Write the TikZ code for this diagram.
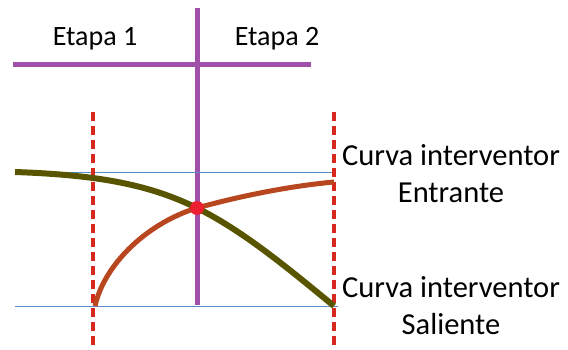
\documentclass[tikz,border=0pt]{standalone}
\usepackage{fontspec}
\setmainfont{Carlito}
\definecolor{purp}{RGB}{160,80,168}
\definecolor{olivec}{RGB}{88,84,0}
\definecolor{brownc}{RGB}{184,70,30}
\definecolor{reddash}{RGB}{214,40,30}
\definecolor{bluel}{RGB}{90,140,200}
\definecolor{dotred}{RGB}{235,30,50}
\begin{document}
\begin{tikzpicture}[x=1pt,y=-1pt,
  lbl/.style={font=\fontsize{28}{34}\selectfont, align=center, inner sep=0pt},
  clbl/.style={font=\fontsize{30.5}{37}\selectfont, align=center, inner sep=0pt},
  purpline/.style={purp, line width=5pt},
  bline/.style={bluel, line width=1pt},
  rdash/.style={reddash, line width=3.5pt, dash pattern=on 9pt off 5pt},
]
\useasboundingbox (0,0) rectangle (568,350);
% coordinates
\coordinate (ptop) at (197,8);
\coordinate (pbot) at (197,305);
\coordinate (hl) at (13,65);
\coordinate (hr) at (311,65);
\coordinate (b1l) at (15,173);
\coordinate (b1r) at (336,173);
\coordinate (b2l) at (15,306);
\coordinate (b2r) at (338,306);
\coordinate (d1t) at (93,112);
\coordinate (d1b) at (93,345);
\coordinate (d2t) at (334,112);
\coordinate (d2b) at (334,345);
\coordinate (x) at (197,208);
\coordinate (os) at (15,172);
\coordinate (oe) at (334,306);
\coordinate (bs) at (95,306);
\coordinate (be) at (334,182);
% labels
\node[lbl] (e1) at (95,39) {Etapa 1};
\node[lbl] (e2) at (277,39) {Etapa 2};
\node[clbl] (ent) at (451,174) {Curva interventor\\Entrante};
\node[clbl] (sal) at (451,306) {Curva interventor\\Saliente};
% lines
\draw[purpline] (hl) -- (hr);
\draw[purpline] (ptop) -- (pbot);
\draw[bline] (b1l) -- (b1r);
\draw[bline] (b2l) -- (b2r);
\draw[rdash] (d1t) -- (d1b);
\draw[rdash] (d2t) -- (d2b);
% curves
\draw[olivec, line width=6pt] (os) .. controls (100,175) and (150,185) .. (x) .. controls (245,232) and (290,270) .. (oe);
\draw[brownc, line width=5pt] (bs) .. controls (105,262) and (150,222) .. (x) .. controls (240,196) and (290,186) .. (be);
\fill[dotred] (x) circle (7pt);
\end{tikzpicture}
\end{document}
